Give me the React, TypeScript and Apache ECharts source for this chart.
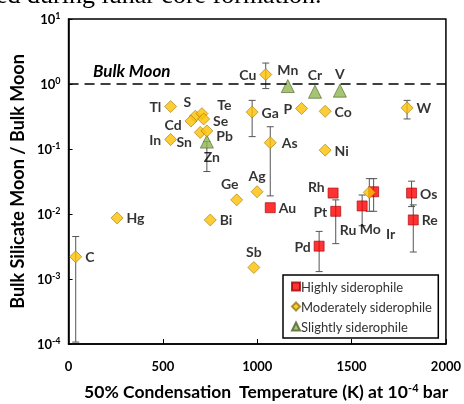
import React, { useEffect, useRef } from "react";
import * as echarts from "echarts";

// ---- Data ----
const highlyNames = ["Au", "Rh", "Pt", "Pd", "Ru", "Ir", "Os", "Re"];
const highlyTemp = [1069, 1402, 1416, 1328, 1556, 1617, 1818, 1827];
const highlyRatio = [0.0125, 0.021, 0.011, 0.0032, 0.0133, 0.022, 0.021, 0.0081];

const moderateNames = ["C", "Hg", "Bi", "Ge", "Ag", "Sb", "Tl", "S", "Cd", "Te", "Se", "In", "Sn", "Pb", "Cu", "Ga", "P", "Co", "W", "As", "Ni", "Mo"];
const moderateTemp = [38, 257, 751, 891, 999, 982, 541, 672, 649, 707, 716, 541, 698, 733, 1045, 973, 1235, 1360, 1794, 1069, 1360, 1594];
const moderateRatio = [0.0022, 0.0087, 0.0081, 0.0165, 0.022, 0.0015, 0.45, 0.32, 0.27, 0.35, 0.29, 0.14, 0.18, 0.19, 1.4, 0.37, 0.42, 0.38, 0.43, 0.125, 0.096, 0.0215];

const slightlyNames = ["Mn", "Cr", "V", "Zn"];
const slightlyTemp = [1162, 1306, 1438, 733];
const slightlyRatio = [0.93, 0.76, 0.79, 0.13];

const errNames = ["C", "Zn", "Cu", "Ga", "W", "As", "Mo", "Pt", "Pd", "Ru", "Ir", "Os", "Re"];
const errTemp = [38, 733, 1045, 973, 1794, 1069, 1594, 1416, 1328, 1556, 1617, 1818, 1827];
const errLow = [1.07e-4, 0.045, 0.85, 0.155, 0.29, 0.019, 0.011, 0.0035, 0.0013, 0.0066, 0.011, 0.013, 0.0026];
const errHigh = [0.0045, 0.13, 2.1, 0.56, 0.56, 0.22, 0.035, 0.0165, 0.0054, 0.0196, 0.035, 0.032, 0.0138];

const bulkMoon = 1;
const xTicks = [0, 500, 1000, 1500, 2000];

// ---- Label placement (style only) ----
const labelPlace: Record<string, { position: string; offset?: number[] }> = {
  Au: { position: "right" }, Rh: { position: "left", offset: [0, -7] }, Pt: { position: "left" },
  Pd: { position: "left" }, Ru: { position: "bottom", offset: [-14, 8] }, Mo: { position: "bottom", offset: [1, 20] },
  Ir: { position: "bottom", offset: [17, 26] }, Os: { position: "right" }, Re: { position: "right" },
  C: { position: "right" }, Hg: { position: "right" }, Bi: { position: "right" },
  Ge: { position: "top", offset: [-7, 0] }, Ag: { position: "top" }, Sb: { position: "top" },
  Tl: { position: "left" }, S: { position: "top", offset: [-8, 2] }, Cd: { position: "left", offset: [0, 4] },
  Te: { position: "right", offset: [6, -9] }, Se: { position: "right", offset: [0, 2] },
  In: { position: "left" }, Sn: { position: "left", offset: [1, 9] }, Pb: { position: "right", offset: [0, 5] },
  Cu: { position: "left" }, Ga: { position: "right" }, P: { position: "left" }, Co: { position: "right" },
  W: { position: "right" }, As: { position: "right", offset: [2, 0] }, Ni: { position: "right" },
  Mn: { position: "top" }, Cr: { position: "top" }, V: { position: "top" }, Zn: { position: "bottom", offset: [5, -2] },
};

const FONT = "Lato, 'Open Sans', sans-serif";

function points(names: string[], xs: number[], ys: number[]) {
  return names.map((n, i) => {
    const lp = labelPlace[n] || { position: "right" };
    return {
      name: n,
      value: [xs[i], ys[i]],
      label: { show: true, position: lp.position, offset: lp.offset || [0, 0] },
    };
  });
}

const pointLabel = {
  show: true,
  formatter: "{b}",
  color: "#000",
  fontFamily: FONT,
  fontWeight: "bold",
  fontSize: 14,
  distance: 3,
};

export default function App() {
  const ref = useRef<HTMLDivElement>(null);
  useEffect(() => {
    if (!ref.current) return;
    const chart = echarts.init(ref.current, null, { renderer: "svg" });
    const errData = errNames.map((_, i) => [errTemp[i], errLow[i], errHigh[i]]);
    chart.setOption({
      animation: false,
      textStyle: { fontFamily: FONT },
      graphic: [
        {
          type: "text",
          x: -4,
          y: -19,
          style: { text: "ed during lunar core formation.", font: "26px 'Liberation Serif', serif", fill: "#000" },
        },
        {
          type: "text",
          x: 93,
          y: 62,
          style: { text: "Bulk Moon", font: "italic bold 17px Lato, sans-serif", fill: "#000" },
        },
        {
          type: "text",
          x: 266,
          y: 382,
          style: {
            text: "{m|50% Condensation  Temperature (K) at 10}{s|-4}{m| bar}",
            align: "center",
            rich: {
              m: { fontFamily: FONT, fontWeight: "bold", fontSize: 17.5, color: "#000" },
              s: { fontFamily: FONT, fontWeight: "bold", fontSize: 11, color: "#000", padding: [0, 0, 8, 0] },
            },
          },
        },
      ],
      grid: { left: 67, right: 16, top: 19, bottom: 60, show: true, borderColor: "#000", borderWidth: 1.5 },
      legend: {
        data: ["Highly siderophile", "Moderately siderophile", "Slightly siderophile"],
        orient: "vertical",
        left: 283,
        top: 275,
        padding: [5, 6, 5, 8],
        itemGap: 7,
        itemWidth: 8,
        itemHeight: 8,
        borderColor: "#000",
        borderWidth: 1.5,
        backgroundColor: "#fff",
        textStyle: { fontFamily: FONT, fontSize: 13, color: "#333", padding: [0, 0, 0, -4] },
      },
      xAxis: {
        type: "value",
        min: 0,
        max: 2000,
        interval: 500,
        axisLine: { lineStyle: { color: "#000", width: 1.5 } },
        axisTick: { inside: true, length: 5, lineStyle: { color: "#000" } },
        axisLabel: {
          margin: 15, fontFamily: FONT, fontWeight: "bold", fontSize: 13, color: "#000",
          formatter: (v: number) => (xTicks.includes(v) ? String(v) : ""),
        },
        splitLine: { show: false },
      },
      yAxis: {
        type: "log",
        logBase: 10,
        min: 1e-4,
        max: 10,
        name: "Bulk Silicate Moon / Bulk Moon",
        nameLocation: "middle",
        nameGap: 40,
        nameTextStyle: { fontFamily: FONT, fontWeight: "bold", fontSize: 18, color: "#000" },
        axisLine: { lineStyle: { color: "#000", width: 1.5 } },
        axisTick: { inside: true, length: 4, lineStyle: { color: "#000" } },
        minorTick: { show: false },
        axisLabel: {
          margin: 8,
          formatter: (v: number) => "{b|10}{s|" + Math.round(Math.log10(v)) + "}",
          rich: {
            b: { fontFamily: FONT, fontWeight: "bold", fontSize: 13, color: "#000" },
            s: { fontFamily: FONT, fontWeight: "bold", fontSize: 9, color: "#000", padding: [0, 0, 8, 0] },
          },
        },
        splitLine: { show: false },
      },
      series: [
        {
          type: "custom",
          name: "err",
          z: 1,
          silent: true,
          data: errData,
          encode: { x: 0, y: [1, 2] },
          renderItem: (params: any, api: any) => {
            const x = api.value(0);
            const p1 = api.coord([x, api.value(1)]);
            const p2 = api.coord([x, api.value(2)]);
            const w = 3.5;
            const st = { stroke: "#555", lineWidth: 1 };
            return {
              type: "group",
              children: [
                { type: "line", shape: { x1: p1[0], y1: p1[1], x2: p2[0], y2: p2[1] }, style: st },
                { type: "line", shape: { x1: p1[0] - w, y1: p1[1], x2: p1[0] + w, y2: p1[1] }, style: st },
                { type: "line", shape: { x1: p2[0] - w, y1: p2[1], x2: p2[0] + w, y2: p2[1] }, style: st },
              ],
            };
          },
        },
        {
          type: "scatter",
          name: "Highly siderophile",
          z: 3,
          symbol: "rect",
          symbolSize: 10,
          itemStyle: { color: "#ff0000", borderColor: "#a00000", borderWidth: 0.8 },
          label: pointLabel,
          data: points(highlyNames, highlyTemp, highlyRatio),
          markLine: {
            silent: true,
            symbol: "none",
            label: { show: false },
            lineStyle: { color: "#000", type: [10, 6], width: 1.5 },
            data: [{ yAxis: bulkMoon }],
          },
        },
        {
          type: "scatter",
          name: "Moderately siderophile",
          z: 4,
          symbol: "diamond",
          symbolSize: 12,
          itemStyle: { color: "#ffc000", borderColor: "#9a7a10", borderWidth: 0.8 },
          label: pointLabel,
          data: points(moderateNames, moderateTemp, moderateRatio),
        },
        {
          type: "scatter",
          name: "Slightly siderophile",
          z: 3,
          symbol: "triangle",
          symbolSize: 13,
          itemStyle: { color: "#8fb650", borderColor: "#4f6228", borderWidth: 0.8 },
          label: pointLabel,
          data: points(slightlyNames, slightlyTemp, slightlyRatio),
        },
      ],
    });
    return () => chart.dispose();
  }, []);
  return <div ref={ref} style={{ position: "fixed", left: 0, top: 0, width: 464, height: 404 }} />;
}
